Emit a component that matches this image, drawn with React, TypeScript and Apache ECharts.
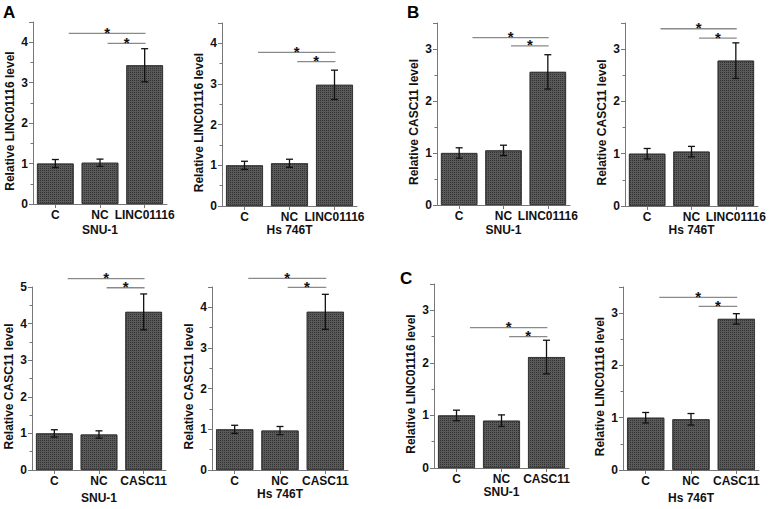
import React, { useEffect, useRef } from "react";
import * as echarts from "echarts";

// ---------- data ----------
const catsLinc = ["C", "NC", "LINC01116"];
const catsCasc = ["C", "NC", "CASC11"];

const yNameLinc = "Relative LINC01116 level";
const yNameCasc = "Relative CASC11 level";
const cellSnu = "SNU-1";
const cellHs = "Hs 746T";

// A: LINC01116 overexpression -> LINC01116 level
const aSnuValues = [1.0, 1.02, 3.43];
const aSnuErrors = [0.1, 0.09, 0.41];
const aSnuSig = [4.22, 3.97];
const aHsValues = [1.0, 1.05, 2.98];
const aHsErrors = [0.1, 0.1, 0.36];
const aHsSig = [3.78, 3.55];

// A bottom: CASC11 overexpression -> CASC11 level
const a2SnuValues = [1.0, 0.97, 4.32];
const a2SnuErrors = [0.1, 0.1, 0.49];
const a2SnuSig = [5.23, 4.98];
const a2HsValues = [1.0, 0.97, 3.89];
const a2HsErrors = [0.1, 0.1, 0.43];
const a2HsSig = [4.71, 4.49];

// B: LINC01116 overexpression -> CASC11 level
const bSnuValues = [1.0, 1.05, 2.56];
const bSnuErrors = [0.1, 0.1, 0.33];
const bSnuSig = [3.22, 3.06];
const bHsValues = [1.0, 1.04, 2.78];
const bHsErrors = [0.1, 0.1, 0.34];
const bHsSig = [3.39, 3.21];

// C: CASC11 overexpression -> LINC01116 level
const cSnuValues = [1.0, 0.9, 2.11];
const cSnuErrors = [0.1, 0.11, 0.32];
const cSnuSig = [2.67, 2.5];
const cHsValues = [1.0, 0.97, 2.89];
const cHsErrors = [0.1, 0.11, 0.1];
const cHsSig = [3.3, 3.13];

const yMaxes = [4.5, 4.5, 3.5, 3.5, 5, 4.5, 3.5, 3.5];

const panelLetters = ["A", "B", "C"];

// ---------- layout (styles / positions) ----------
const FONT = "Liberation Sans";
const grids = [
  { left: 33, top: 22, width: 134, height: 182 },
  { left: 222, top: 23, width: 135, height: 183 },
  { left: 437, top: 23, width: 133, height: 182 },
  { left: 625, top: 23, width: 133, height: 183 },
  { left: 32, top: 287, width: 134, height: 183 },
  { left: 212, top: 287, width: 136, height: 183 },
  { left: 434, top: 284, width: 135, height: 184 },
  { left: 623, top: 287, width: 136, height: 183 },
];
const xNameGaps = [20, 17.5, 19, 17, 22, 13, 15.6, 22];
const letterPos = [
  { left: 3, top: 4 },
  { left: 407, top: 4 },
  { left: 400, top: 270 },
];

const panels = [
  { cats: catsLinc, yName: yNameLinc, xName: cellSnu, values: aSnuValues, errors: aSnuErrors, sig: aSnuSig },
  { cats: catsLinc, yName: yNameLinc, xName: cellHs, values: aHsValues, errors: aHsErrors, sig: aHsSig },
  { cats: catsLinc, yName: yNameCasc, xName: cellSnu, values: bSnuValues, errors: bSnuErrors, sig: bSnuSig },
  { cats: catsLinc, yName: yNameCasc, xName: cellHs, values: bHsValues, errors: bHsErrors, sig: bHsSig },
  { cats: catsCasc, yName: yNameCasc, xName: cellSnu, values: a2SnuValues, errors: a2SnuErrors, sig: a2SnuSig },
  { cats: catsCasc, yName: yNameCasc, xName: cellHs, values: a2HsValues, errors: a2HsErrors, sig: a2HsSig },
  { cats: catsCasc, yName: yNameLinc, xName: cellSnu, values: cSnuValues, errors: cSnuErrors, sig: cSnuSig },
  { cats: catsCasc, yName: yNameLinc, xName: cellHs, values: cHsValues, errors: cHsErrors, sig: cHsSig },
];

function buildOption() {
  const grid: any[] = [];
  const xAxis: any[] = [];
  const yAxis: any[] = [];
  const series: any[] = [];

  panels.forEach((p, i) => {
    grid.push({ ...grids[i], containLabel: false });
    xAxis.push({
      type: "category",
      gridIndex: i,
      data: p.cats,
      name: p.xName,
      nameLocation: "middle",
      nameGap: xNameGaps[i],
      nameTextStyle: { fontFamily: FONT, fontWeight: "bold", fontSize: 12, color: "#111" },
      axisLine: { lineStyle: { color: "#777", width: 1 } },
      axisTick: { show: true, inside: false, alignWithLabel: true, length: 4, lineStyle: { color: "#777" } },
      axisLabel: { interval: 0, margin: 5, fontFamily: FONT, fontWeight: "bold", fontSize: 12, color: "#111" },
    });
    yAxis.push({
      type: "value",
      gridIndex: i,
      min: 0,
      max: yMaxes[i],
      interval: 1,
      name: p.yName,
      nameLocation: "middle",
      nameGap: 17,
      nameTextStyle: {
        fontFamily: FONT,
        fontWeight: "bold",
        fontSize: 12,
        color: "#111",
        padding: [0, 16, 0, 0],
      },
      splitLine: { show: false },
      axisLine: { show: true, lineStyle: { color: "#777", width: 1 } },
      axisTick: { show: true, inside: false, length: 4, lineStyle: { color: "#777" } },
      minorTick: { show: true, splitNumber: 2, length: 2.5, lineStyle: { color: "#777" } },
      axisLabel: {
        margin: 5,
        showMaxLabel: Number.isInteger(yMaxes[i]),
        fontFamily: FONT,
        fontWeight: "bold",
        fontSize: 12,
        color: "#111",
        formatter: (v: number) => (Number.isInteger(v) ? String(v) : ""),
      },
    });
    series.push({
      type: "bar",
      xAxisIndex: i,
      yAxisIndex: i,
      data: p.values,
      barCategoryGap: "18%",
      itemStyle: {
        color: "#595959",
        borderColor: "#333",
        borderWidth: 0.8,
        decal: {
          symbol: "rect",
          symbolSize: 1,
          color: "rgba(20,20,20,0.55)",
          dashArrayX: [1, 1],
          dashArrayY: [1, 1],
          rotation: 0,
        },
      },
    });
    series.push({
      type: "custom",
      xAxisIndex: i,
      yAxisIndex: i,
      encode: { x: 0, y: 1 },
      data: p.values.map((v, k) => [k, v, p.errors[k]]),
      z: 5,
      renderItem: (params: any, api: any) => {
        const k = api.value(0);
        const v = api.value(1);
        const e = api.value(2);
        const top = api.coord([k, v + e]);
        const bot = api.coord([k, v - e]);
        const hw = 3.5;
        const style = { stroke: "#111", lineWidth: 1.3 };
        return {
          type: "group",
          children: [
            { type: "line", shape: { x1: top[0], y1: top[1], x2: bot[0], y2: bot[1] }, style },
            { type: "line", shape: { x1: top[0] - hw, y1: top[1], x2: top[0] + hw, y2: top[1] }, style },
            { type: "line", shape: { x1: bot[0] - hw, y1: bot[1], x2: bot[0] + hw, y2: bot[1] }, style },
          ],
        };
      },
    });
    series.push({
      type: "custom",
      xAxisIndex: i,
      yAxisIndex: i,
      encode: { x: 0, y: 2 },
      data: [
        [0, 2, p.sig[0]],
        [1, 2, p.sig[1]],
      ],
      z: 6,
      renderItem: (params: any, api: any) => {
        const from = api.value(0);
        const to = api.value(1);
        const y = api.value(2);
        const band = api.size([1, 0])[0];
        const a = api.coord([from, y]);
        const b = api.coord([to, y]);
        const x1 = a[0] + (from === 0 ? 0.3 : 0.17) * band;
        const x2 = b[0] + 0.02 * band;
        return {
          type: "group",
          children: [
            { type: "line", shape: { x1, y1: a[1], x2, y2: a[1] }, style: { stroke: "#8a8a8a", lineWidth: 1.3 } },
            {
              type: "text",
              x: (x1 + x2) / 2,
              y: a[1] - 1,
              style: {
                text: "*",
                fill: "#111",
                font: `bold 15px "${FONT}"`,
                align: "center",
                verticalAlign: "middle",
              },
            },
          ],
        };
      },
    });
  });

  const graphic = panelLetters.map((t, i) => ({
    type: "text",
    left: letterPos[i].left,
    top: letterPos[i].top,
    style: { text: t, fill: "#000", font: `bold 17px "${FONT}"` },
  }));

  return {
    animation: false,
    backgroundColor: "#fff",
    grid,
    xAxis,
    yAxis,
    series,
    graphic,
  };
}

export default function App() {
  const ref = useRef<HTMLDivElement>(null);
  useEffect(() => {
    if (!ref.current) return;
    const chart = echarts.init(ref.current, undefined, { renderer: "svg" });
    chart.setOption(buildOption() as any);
    return () => chart.dispose();
  }, []);
  return <div ref={ref} style={{ width: 771, height: 509, position: "absolute", left: 0, top: 0 }} />;
}
